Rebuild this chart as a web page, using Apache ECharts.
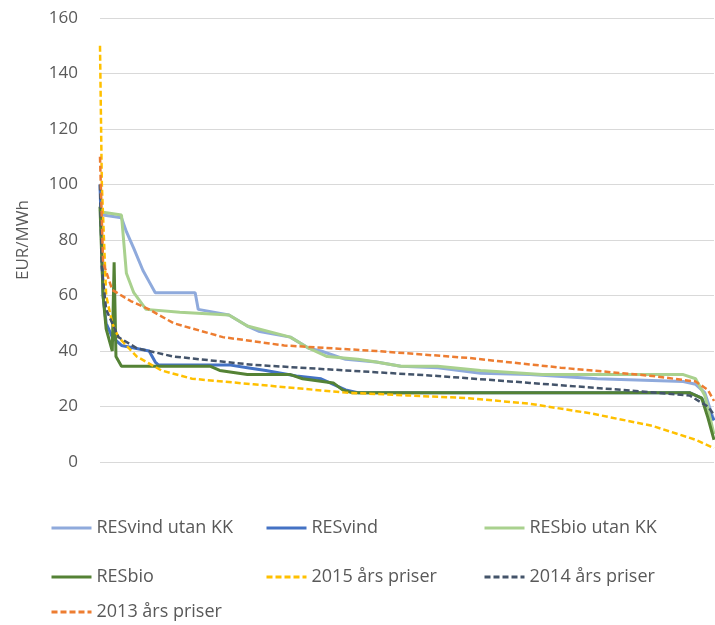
<!DOCTYPE html><html><head><meta charset="utf-8"><script src="https://cdn.jsdelivr.net/npm/echarts@6/dist/echarts.min.js"></script></head><body style="margin:0"><div id="c" style="width:715px;height:625px"></div><script>
const yTicks=[0,20,40,60,80,100,120,140,160];
const names=["RESvind utan KK","RESvind","RESbio utan KK","RESbio","2015 års priser","2014 års priser","2013 års priser"];
const vindUtan=[[0,91],[0.5,89],[3.5,88],[4.3,83],[5.5,77],[7,69],[8,65],[9,61],[15.5,61],[16,55],[21,53],[24,49],[26,47],[31,45],[34,41],[36,40],[40,37],[45,36],[49,34.5],[55,34],[62,32],[70,31.5],[81,30],[95,29],[97,28],[98.5,25],[100,15]];
const vind=[[0,100],[0.5,60],[1,50],[2,45],[3.5,42],[8,40],[9,36],[9.5,35],[21,35],[24,34],[27,33],[32,31],[36,30],[38,28],[40,26],[42,25],[96,25],[98,23],[100,15]];
const bioUtan=[[0,91],[0.5,90],[3.5,89],[4.3,68],[5.5,61],[7.5,55],[13,54],[21,53],[24,49],[31,45],[34,41],[37,38],[42,37],[45,36],[49,34.5],[55,34.5],[62,33],[72,31.5],[95,31.5],[97,30],[98.5,24],[100,10]];
const bio=[[0,92],[0.5,60],[1,48],[2,40],[2.3,72],[2.6,38],[3.5,34.5],[18,34.5],[19.5,33],[24,31.5],[31,31.5],[33,30],[38,28.5],[39.5,26],[41,25],[96,25],[98,23],[99,16],[100,8]];
const p2015=[[0,150],[0.3,100],[1,60],[2,50],[3,45],[6,38],[10,33],[15,30],[25,28],[40,25],[50,24],[60,23],[70,21],[80,17.5],[90,13],[97,8],[100,5]];
const p2014=[[0,100],[0.3,70],[1,55],[3,45],[6,41],[12,38],[25,35],[40,33],[55,31],[70,28.5],[85,26],[96,24],[99,20],[100,17]];
const p2013=[[0,110],[0.5,72],[2,62],[5,58],[8,55],[12,50],[20,45],[30,42],[45,40],[60,37.5],[75,34],[90,31],[97,29],[99,26],[100,22]];
const datas=[vindUtan,vind,bioUtan,bio,p2015,p2014,p2013];
const colors=["#8faadc","#4472c4","#a9d18e","#548235","#ffc000","#44546a","#ed7d31"];
const dashed=[false,false,false,false,true,true,true];
const pos=[[45,514],[260,514],[478,514],[45,563],[260,563],[478,563],[45,598]];
const c=echarts.init(document.getElementById('c'));
c.setOption({animation:false,
grid:{left:100,right:1,top:18,bottom:163},
xAxis:{type:'value',min:0,max:100,show:false},
yAxis:{type:'value',min:0,max:160,interval:20,name:'EUR/MWh',nameLocation:'middle',nameGap:68,nameTextStyle:{fontSize:17,color:'#595959',fontFamily:'Open Sans'},axisLabel:{fontSize:17,color:'#595959',fontFamily:'Open Sans',margin:22},splitLine:{lineStyle:{color:'#d9d9d9'}},axisLine:{show:false},axisTick:{show:false}},
legend:names.map((n,i)=>({data:[n],left:pos[i][0],top:pos[i][1],itemWidth:40,itemHeight:16,itemGap:8,itemStyle:{opacity:0},lineStyle:{width:3},textStyle:{fontSize:18,color:'#595959',fontFamily:'Open Sans'}})),
series:names.map((n,i)=>({name:n,type:'line',data:datas[i],showSymbol:false,symbol:'none',color:colors[i],lineStyle:{width:dashed[i]?2.5:3,type:dashed[i]?[6,3]:'solid',color:colors[i]}}))
});
</script></body></html>
